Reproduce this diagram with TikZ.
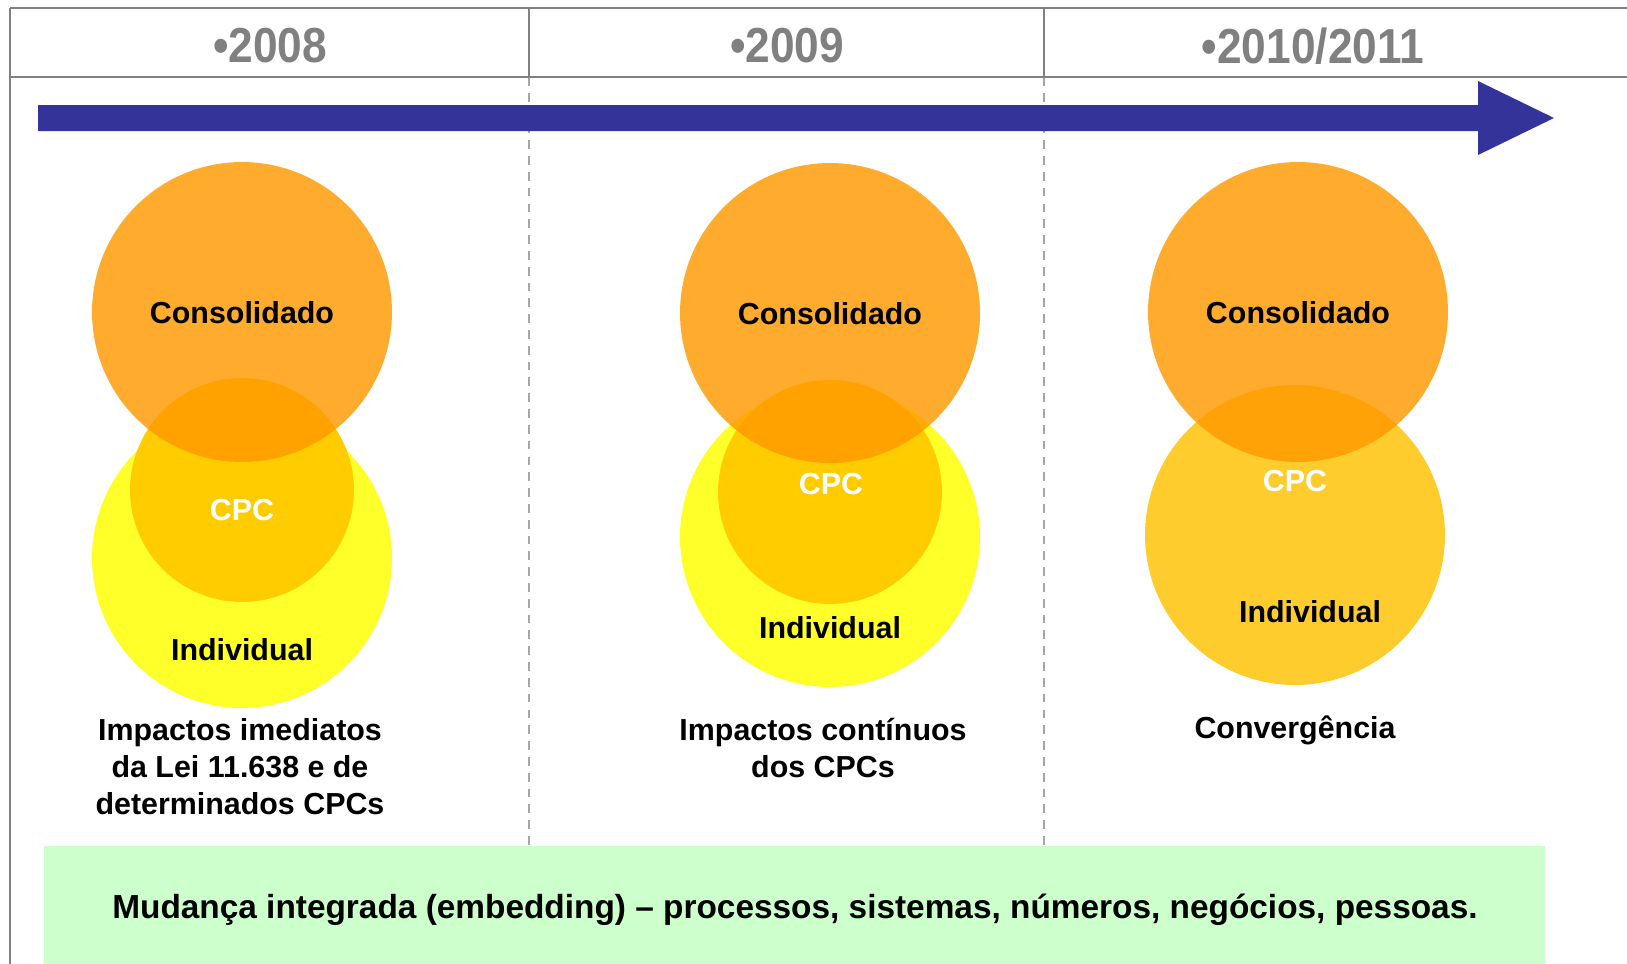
\documentclass[tikz,border=0pt]{standalone}
\usepackage{fontspec}
\setmainfont{Liberation Sans}
\newfontfamily\yearfont[FakeStretch=0.9]{Liberation Sans}
\definecolor{gridgray}{HTML}{808080}
\definecolor{dashgray}{HTML}{A6A6A6}
\definecolor{arrowblue}{HTML}{333399}
\definecolor{consorange}{HTML}{FF9900}
\definecolor{indivyellow}{HTML}{FFFF2A}
\definecolor{cpcgold}{HTML}{FFCC00}
\definecolor{convgold}{HTML}{FFCC2E}
\definecolor{boxgreen}{HTML}{CCFFCC}
\tikzset{
	yearlbl/.style={text=gridgray, font=\yearfont\fontsize{28}{30}\selectfont\bfseries},
	lbl/.style={font=\fontsize{17.3}{21}\selectfont\bfseries, align=center},
	bigcirc/.style={circle, minimum size=6cm, inner sep=0pt},
	cpccirc/.style={circle, minimum size=4.48cm, inner sep=0pt, fill=cpcgold},
	conscirc/.style={bigcirc, fill=consorange, fill opacity=0.82},
}
\begin{document}
\begin{tikzpicture}[x=0.02cm, y=-0.02cm]
		\useasboundingbox (0, 0) rectangle (1627, 964);
		\coordinate (T0) at (10, 8);
		\coordinate (T1) at (529, 8);
		\coordinate (T2) at (1044, 8);
		\coordinate (T3) at (1627, 8);
		\coordinate (H0) at (10, 77);
		\coordinate (H1) at (529, 77);
		\coordinate (H2) at (1044, 77);
		\coordinate (H3) at (1627, 77);
		\coordinate (B0) at (10, 964);
		\coordinate (D1) at (529, 845);
		\coordinate (D2) at (1044, 845);
		
		\draw [dashgray, line width=1pt, dash pattern=on 5pt off 4pt] (H1) -- (D1);
		\draw [dashgray, line width=1pt, dash pattern=on 5pt off 4pt] (H2) -- (D2);
		\draw [gridgray, line width=1.2pt] (T0) -- (T3) (H0) -- (H3) (T0) -- (B0) (T1) -- (H1) (T2) -- (H2);
		
		\node [yearlbl] (y1) at (270, 46) {•2008};
		\node [yearlbl] (y2) at (787, 46) {•2009};
		\node [yearlbl] (y3) at (1313, 46) {•2010/2011};
		
		\fill [arrowblue] (38, 105) -- (1478, 105) -- (1478, 81) -- (1554, 118) -- (1478, 155) -- (1478, 131) -- (38, 131) -- cycle;
		
		% 2008
		\node [bigcirc, fill=indivyellow] (ind1) at (242, 558) {};
		\node [cpccirc] (cpc1) at (242, 490) {};
		\node [conscirc] (con1) at (242, 312) {};
		\node [lbl] (tcon1) at (242, 313) {Consolidado};
		\node [lbl, text=white] (tcpc1) at (242, 510) {CPC};
		\node [lbl] (tind1) at (242, 650) {Individual};
		\node [lbl] (txt1) at (240, 767) {Impactos imediatos\\da Lei 11.638 e de\\determinados CPCs};
		
		% 2009
		\node [bigcirc, fill=indivyellow] (ind2) at (830, 537) {};
		\node [cpccirc] (cpc2) at (830, 492) {};
		\node [conscirc] (con2) at (830, 313) {};
		\node [lbl] (tcon2) at (830, 314) {Consolidado};
		\node [lbl, text=white] (tcpc2) at (831, 484) {CPC};
		\node [lbl] (tind2) at (830, 628) {Individual};
		\node [lbl] (txt2) at (823, 748) {Impactos contínuos\\dos CPCs};
		
		% 2010/2011
		\node [bigcirc, fill=convgold] (ind3) at (1295, 535) {};
		\node [conscirc] (con3) at (1298, 312) {};
		\node [lbl] (tcon3) at (1298, 313) {Consolidado};
		\node [lbl, text=white] (tcpc3) at (1295, 481) {CPC};
		\node [lbl] (tind3) at (1310, 612) {Individual};
		\node [lbl] (txt3) at (1295, 730) {Convergência};
		
		\fill [boxgreen] (44, 846) rectangle (1545, 964);
		\node [font=\fontsize{19}{22}\selectfont\bfseries] (chg) at (795, 910) {Mudança integrada (embedding) – processos, sistemas, números, negócios, pessoas.};
\end{tikzpicture}
\end{document}
